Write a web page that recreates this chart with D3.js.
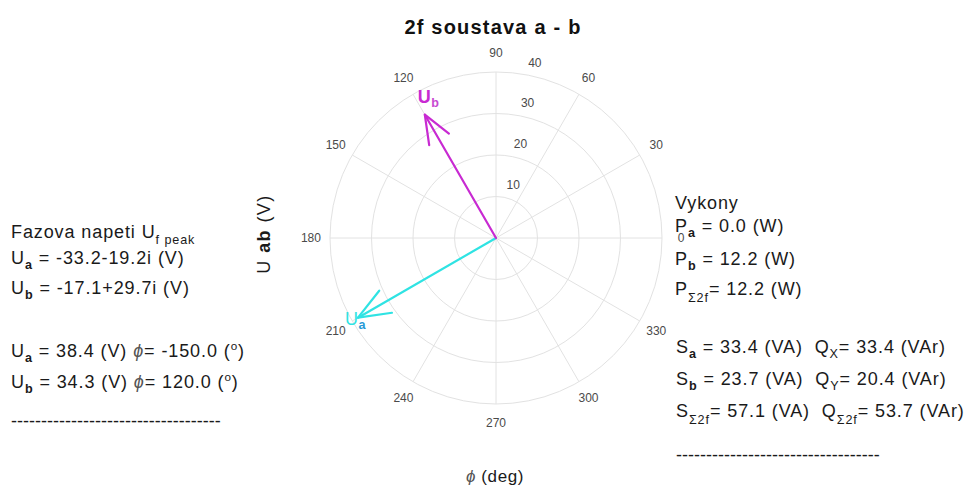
<!DOCTYPE html>
<html>
<head>
<meta charset="utf-8">
<script src="https://cdn.jsdelivr.net/npm/d3@7"></script>
<style>
  html, body { margin: 0; padding: 0; background: #fff; }
  svg { display: block; }
  svg text { white-space: pre; }
</style>
</head>
<body>
<script>
// Phasor data for the two-phase system a - b
const phaseNames = ["a", "b"];
const magnitudes = [38.4, 34.3];          // |U| in V
const phaseAngles = [-150.0, 120.0];      // deg
const realParts = [-33.2, -17.1];
const imagParts = [-19.2, 29.7];
const phasorColors = ["#2fe3e3", "#c82ad2"];
const subColors = ["#2a9ad6", "#c84ad2"];

// Power summary
const activePower = [0.0, 12.2];          // W
const apparentPower = [33.4, 23.7];       // VA
const reactivePower = [33.4, 20.4];       // VAr
const reactiveNames = ["X", "Y"];
const totalActive = 12.2;
const totalApparent = 57.1;
const totalReactive = 53.7;

// Grid ticks
const radialTicks = [10, 20, 30, 40];
const angleTicks = d3.range(0, 360, 30);

const W = 973, H = 488;
const cx = 496, cy = 238, R = 166;
const FONT = "'Liberation Sans', Arial, Helvetica, sans-serif";

const svg = d3.select("body").append("svg")
  .attr("width", W).attr("height", H)
  .style("font-family", FONT);

const r = d3.scaleLinear().domain([0, 40]).range([0, R]);
const toXY = (rad, deg) => {
  const a = deg * Math.PI / 180;
  return [cx + rad * Math.cos(a), cy - rad * Math.sin(a)];
};

// ---- polar grid ----
const grid = svg.append("g").attr("fill", "none").attr("stroke", "#e2e2e2").attr("stroke-width", 1);
radialTicks.forEach(t => grid.append("circle").attr("cx", cx).attr("cy", cy).attr("r", r(t)));
d3.range(0, 180, 30).forEach(deg => {
  const p1 = toXY(R, deg), p2 = toXY(R, deg + 180);
  grid.append("line").attr("x1", p1[0]).attr("y1", p1[1]).attr("x2", p2[0]).attr("y2", p2[1]);
});

// angle labels
svg.append("g").selectAll("text").data(angleTicks).join("text")
  .attr("x", d => toXY(R * 1.115, d)[0])
  .attr("y", d => toXY(R * 1.115, d)[1])
  .attr("text-anchor", "middle").attr("dominant-baseline", "central")
  .attr("font-size", 12).attr("fill", "#4a4a4a")
  .text(d => d);

// radial labels
svg.append("g").selectAll("text").data(radialTicks).join("text")
  .attr("x", d => toXY(r(d), 80)[0] + 10)
  .attr("y", d => toXY(r(d), 80)[1] - 12)
  .attr("text-anchor", "middle").attr("dominant-baseline", "central")
  .attr("font-size", 12).attr("fill", "#4a4a4a")
  .text(d => d);

// ---- rich text helper (subscripts / superscripts) ----
function rich(parent, x, y, segs, opt = {}) {
  const size = opt.size || 18;
  const t = parent.append("text").attr("x", x).attr("y", y)
    .attr("font-size", size).attr("fill", opt.fill || "#1a1a1a")
    .attr("letter-spacing", opt.ls != null ? opt.ls : 0.9);
  if (opt.anchor) t.attr("text-anchor", opt.anchor);
  if (opt.weight) t.attr("font-weight", opt.weight);
  if (opt.transform) t.attr("transform", opt.transform);
  let shift = 0;
  segs.forEach(([str, kind, color]) => {
    let target = 0;
    const ts = t.append("tspan").text(str);
    if (kind === "sub" || kind === "subb") {
      target = opt.subShift || 5;
      ts.attr("font-size", size * 0.7);
      if (kind === "subb") ts.attr("font-weight", "bold");
    } else if (kind === "sup") {
      target = -7;
      ts.attr("font-size", size * 0.65);
    } else if (kind === "phi") {
      ts.attr("font-style", "italic").attr("fill", "#555");
    } else if (kind === "b") {
      ts.attr("font-weight", "bold");
    } else if (kind === "r") {
      ts.attr("font-weight", "normal");
    }
    if (color) ts.attr("fill", color);
    if (target !== shift) { ts.attr("dy", target - shift); shift = target; }
  });
  return t;
}
const f1 = v => v.toFixed(1);
const cplx = (re, im) => `${f1(re)}${im >= 0 ? "+" : ""}${f1(im)}i`;

// ---- title and axis labels ----
rich(svg, 493, 34, [["2f soustava ", "n"], ["a - b", "n"]],
  { size: 20, weight: "bold", anchor: "middle", ls: 1.2, fill: "#111" });
rich(svg, 270, 234, [["U ", "r"], ["ab", "b"], [" (V)", "r"]],
  { size: 18, anchor: "middle", ls: 1.4, transform: "rotate(-90 270 234)" });
rich(svg, 495, 482, [["ϕ", "phi"], [" (deg)", "n"]], { size: 17, anchor: "middle", ls: 0.6 });

// ---- phasor arrows ----
const arrows = svg.append("g").attr("fill", "none").attr("stroke-width", 2.2)
  .attr("stroke-linecap", "round").attr("stroke-linejoin", "round");
const tips = magnitudes.map((m, i) => toXY(r(m), phaseAngles[i]));
tips.forEach((tip, i) => {
  const ux = tip[0] - cx, uy = tip[1] - cy;
  const w1 = [cx + 0.8 * ux - 0.08 * uy, cy + 0.8 * uy + 0.08 * ux];
  const w2 = [cx + 0.8 * ux + 0.08 * uy, cy + 0.8 * uy - 0.08 * ux];
  arrows.append("path").attr("stroke", phasorColors[i])
    .attr("d", d3.line()([[cx, cy], tip]));
  arrows.append("path").attr("stroke", phasorColors[i])
    .attr("d", d3.line()([w1, tip, w2]));
});
// phasor labels
const labelOffsets = [[-13, 7], [-7, -12]];
const labelWeights = ["normal", "bold"];
tips.forEach((tip, i) => {
  rich(svg, tip[0] + labelOffsets[i][0], tip[1] + labelOffsets[i][1],
    [["U", "n"], [phaseNames[i], "subb", subColors[i]]],
    { size: 18, fill: phasorColors[i], ls: 0.5, subShift: 4, weight: labelWeights[i] });
});

// ---- left text block: phase voltages ----
const left = svg.append("g");
rich(left, 11, 238, [["Fazova napeti U", "n"], ["f peak", "sub"]], { subShift: 6 });
phaseNames.forEach((n, i) => {
  rich(left, 11, [264, 294][i], [["U", "n"], [n, "subb"], [` = ${cplx(realParts[i], imagParts[i])} (V)`, "n"]]);
  rich(left, 11, [357, 388][i], [["U", "n"], [n, "subb"], [` = ${f1(magnitudes[i])} (V) `, "n"],
    ["ϕ", "phi"], [`= ${f1(phaseAngles[i])} (`, "n"], ["o", "sup"], [")", "n"]]);
});
rich(left, 11, 427, [["-".repeat(35), "n"]], { ls: 0 });

// ---- right text block: powers ----
const right = svg.append("g");
rich(right, 675, 209, [["Vykony", "n"]]);
phaseNames.forEach((n, i) => {
  rich(right, 675, [232, 265][i], [["P", "n"], [n, "subb"], [` = ${f1(activePower[i])} (W)`, "n"]]);
  rich(right, 676, [353, 385][i], [["S", "n"], [n, "subb"], [` = ${f1(apparentPower[i])} (VA)  Q`, "n"],
    [reactiveNames[i], "sub"], [`= ${f1(reactivePower[i])} (VAr)`, "n"]]);
});
rich(right, 675, 295, [["P", "n"], ["Σ2f", "sub"], [`= ${f1(totalActive)} (W)`, "n"]], { subShift: 7 });
rich(right, 676, 417, [["S", "n"], ["Σ2f", "sub"], [`= ${f1(totalApparent)} (VA)  Q`, "n"],
  ["Σ2f", "sub"], [`= ${f1(totalReactive)} (VAr)`, "n"]], { subShift: 7 });
rich(right, 676, 461, [["-".repeat(34), "n"]], { ls: 0 });
</script>
</body>
</html>
